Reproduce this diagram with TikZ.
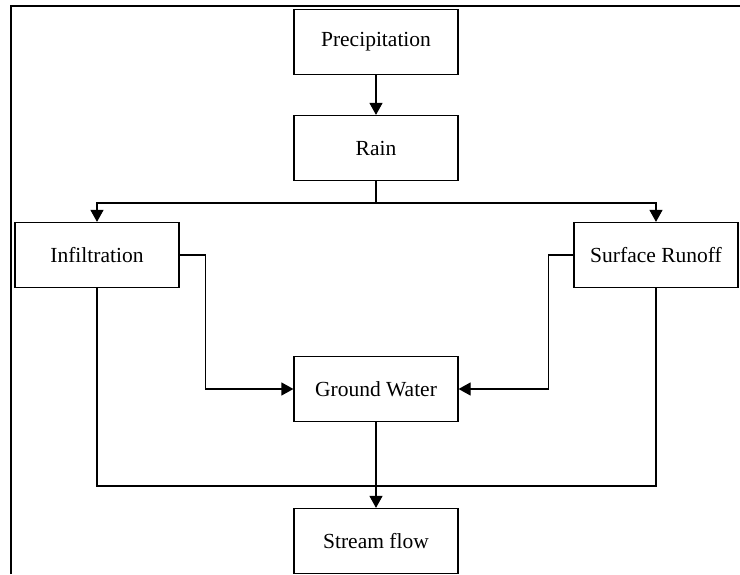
\documentclass[tikz,border=0pt]{standalone}
\usepackage{fontspec}
\setmainfont{Liberation Serif}
\usetikzlibrary{arrows.meta}

\begin{document}
\begin{tikzpicture}[x=0.5pt, y=-0.5pt, line width=0.6pt,
    box/.style={shape=rectangle, draw, minimum width=82pt, minimum height=32.5pt, font=\fontsize{10.75}{13}\selectfont},
    arr/.style={-{Triangle[length=6pt, width=6.5pt]}}]
    \useasboundingbox (0,0) rectangle (740,574);
    \draw (11,574) -- (11,6) -- (740,6);
    \node[box] at (376, 42) (precip) {Precipitation};
    \node[box] at (376, 148) (rain) {Rain};
    \node[box] at (97, 255) (infil) {Infiltration};
    \node[box] at (656, 255) (runoff) {Surface Runoff};
    \node[box] at (376, 389) (ground) {Ground Water};
    \node[box] at (376, 541) (stream) {Stream flow};
    \coordinate (split) at (376, 203);
    \coordinate (join) at (376, 486);
    \draw[arr] (precip) -- (rain);
    \draw (rain) -- (split);
    \draw[arr] (split) -| (infil);
    \draw[arr] (split) -| (runoff);
    \draw[arr] (infil.east) -- ++(26,0) |- (ground);
    \draw[arr] (runoff.west) -- ++(-25,0) |- (ground);
    \draw (infil) |- (join) -| (runoff);
    \draw[arr] (ground) -- (stream);
\end{tikzpicture}
\end{document}
